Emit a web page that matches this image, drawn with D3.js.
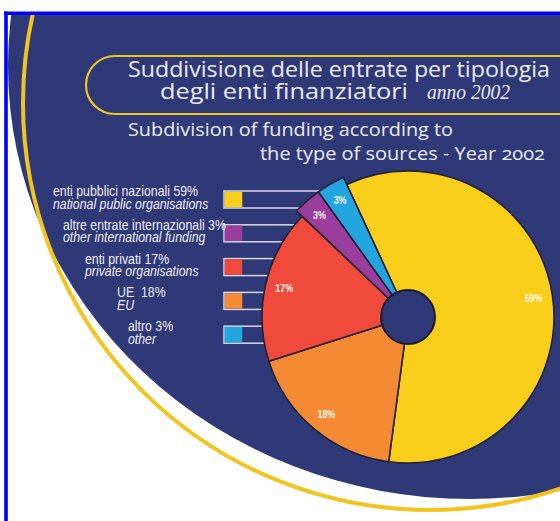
<!DOCTYPE html>
<html>
<head>
<meta charset="utf-8">
<script src="https://cdn.jsdelivr.net/npm/d3@7"></script>
<style>
  html, body { margin: 0; padding: 0; background: #ffffff; }
  svg { display: block; }
</style>
</head>
<body>
<svg id="chart" width="560" height="521"></svg>
<script>
// ---- data ----
const labelsIt = ["enti pubblici nazionali", "altre entrate internazionali", "enti privati", "UE ", "altro"];
const labelsEn = ["national public organisations", "other international funding", "private organisations", "EU", "other"];
const values = [59, 3, 17, 18, 3];
const sliceColors = ["#f9cf1c", "#9a3e9e", "#ef4a3b", "#f58a34", "#23a6e0"];
// clockwise order of slices in the pie, starting just left of 12 o'clock
const sliceOrder = [0, 3, 2, 1, 4];
const titleLines = ["Suddivisione delle entrate per tipologia", "degli enti finanziatori"];
const titleYear = "anno 2002";
const subtitleLines = ["Subdivision of funding according to", "the type of sources - Year 2002"];

// ---- layout ----
const W = 560, H = 521;
const navy = "#2f3978";
const gold = "#f2c41f";
const textCol = "#ecebf6";
const svg = d3.select("#chart");

svg.append("rect").attr("width", W).attr("height", H).attr("fill", "#ffffff");

const defs = svg.append("defs");
defs.append("clipPath").attr("id", "frame")
  .append("rect").attr("x", 7).attr("y", 14).attr("width", W).attr("height", H);

const g = svg.append("g").attr("clip-path", "url(#frame)");

// background disc and gold arc
g.append("ellipse").attr("cx", 470).attr("cy", 66).attr("rx", 462).attr("ry", 433).attr("fill", navy);
g.append("circle").attr("cx", 430).attr("cy", 103).attr("r", 407)
  .attr("fill", "none").attr("stroke", gold).attr("stroke-width", 4);

// title pill
g.append("rect").attr("x", 86).attr("y", 56).attr("width", 620).attr("height", 58).attr("rx", 29)
  .attr("fill", "none").attr("stroke", gold).attr("stroke-width", 2.2);

const sans = "'Open Sans', 'Noto Sans', sans-serif";
g.append("text").attr("x", 128).attr("y", 77)
  .attr("font-family", sans).attr("font-size", 21)
  .attr("fill", textCol).attr("textLength", 422).attr("lengthAdjust", "spacingAndGlyphs")
  .text(titleLines[0]);
g.append("text").attr("x", 160).attr("y", 99)
  .attr("font-family", sans).attr("font-size", 21)
  .attr("fill", textCol).attr("textLength", 248).attr("lengthAdjust", "spacingAndGlyphs")
  .text(titleLines[1]);
g.append("text").attr("x", 427).attr("y", 99)
  .attr("font-family", "'Liberation Serif', 'DejaVu Serif', serif").attr("font-style", "italic")
  .attr("font-size", 22).attr("fill", textCol)
  .style("font-variant-numeric", "oldstyle-nums")
  .attr("textLength", 83).attr("lengthAdjust", "spacingAndGlyphs")
  .text(titleYear);

g.append("text").attr("x", 128).attr("y", 136)
  .attr("font-family", sans).attr("font-size", 18.5)
  .attr("fill", textCol).attr("textLength", 325).attr("lengthAdjust", "spacingAndGlyphs")
  .text(subtitleLines[0]);
g.append("text").attr("x", 260).attr("y", 160)
  .attr("font-family", sans).attr("font-size", 18.5)
  .style("font-variant-numeric", "oldstyle-nums")
  .attr("fill", textCol).attr("textLength", 285).attr("lengthAdjust", "spacingAndGlyphs")
  .text(subtitleLines[1]);

// ---- legend ----
const legendTop = 191, legendStep = 33.8, legendH = 17;
const legendIndent = [53, 63, 85, 117, 128];
const narrow = "'Liberation Sans', Arial, sans-serif";
const squeeze = 0.85; // emulate a narrow typeface
const rowScale = d3.scaleLinear().domain([0, 1]).range([legendTop, legendTop + legendStep]);

const leg = g.append("g");
labelsIt.forEach((lab, i) => {
  const y0 = rowScale(i);
  leg.append("rect").attr("x", 224).attr("y", y0).attr("width", 180).attr("height", legendH)
    .attr("fill", navy).attr("stroke", "#d9d9ee").attr("stroke-width", 1.5);
  leg.append("rect").attr("x", 224.75).attr("y", y0 + 0.75).attr("width", 17.5).attr("height", legendH - 1.5)
    .attr("fill", sliceColors[i]);
  leg.append("text")
    .attr("transform", `translate(${legendIndent[i]},${y0 + 5}) scale(${squeeze},1)`)
    .attr("font-family", narrow).attr("font-size", 14.5).attr("fill", textCol)
    .style("white-space", "pre")
    .text(lab + " " + values[i] + "%");
  leg.append("text")
    .attr("transform", `translate(${legendIndent[i]},${y0 + 17.5}) scale(${squeeze},1)`)
    .attr("font-family", narrow).attr("font-size", 14.5).attr("font-style", "italic")
    .attr("fill", textCol)
    .text(labelsEn[i]);
});

// ---- pie ----
const cx = 408, cy = 317, R = 146, r0 = 27;
const ordered = sliceOrder.map(i => ({ idx: i, value: values[i] }));
const startA = -24.8 * Math.PI / 180;
const pie = d3.pie().sort(null).value(d => d.value).startAngle(startA).endAngle(startA + 2 * Math.PI);
const arcs = pie(ordered);
const outerR = d => (d.data.value < 5 ? R + 8 : R);
const arc = d3.arc().innerRadius(0).outerRadius(d => outerR(d));

const pg = g.append("g").attr("transform", `translate(${cx},${cy})`);
pg.selectAll("path.slice").data(arcs).join("path")
  .attr("class", "slice")
  .attr("d", arc)
  .attr("fill", d => sliceColors[d.data.idx])
  .attr("stroke", "#231f35").attr("stroke-width", 1.6).attr("stroke-linejoin", "round");

pg.append("circle").attr("r", r0).attr("fill", navy).attr("stroke", "#1d1a2e").attr("stroke-width", 2);

const labelArc = d3.arc().innerRadius(d => outerR(d) - 19).outerRadius(d => outerR(d) - 19);
pg.selectAll("text.pl").data(arcs).join("text")
  .attr("class", "pl")
  .attr("transform", d => `translate(${labelArc.centroid(d)}) scale(0.85,1)`)
  .attr("text-anchor", "middle").attr("dy", "0.35em")
  .attr("font-family", narrow).attr("font-weight", "bold").attr("font-size", 10.5)
  .attr("fill", "#fbf6ea")
  .text(d => d.data.value + "%");

// ---- frame border ----
svg.append("line").attr("x1", 4).attr("x2", W).attr("y1", 13.2).attr("y2", 13.2)
  .attr("stroke", "#0000ff").attr("stroke-width", 3.6);
svg.append("line").attr("x1", 6).attr("x2", 6).attr("y1", 11.4).attr("y2", H)
  .attr("stroke", "#0000ff").attr("stroke-width", 3.6);
</script>
</body>
</html>
